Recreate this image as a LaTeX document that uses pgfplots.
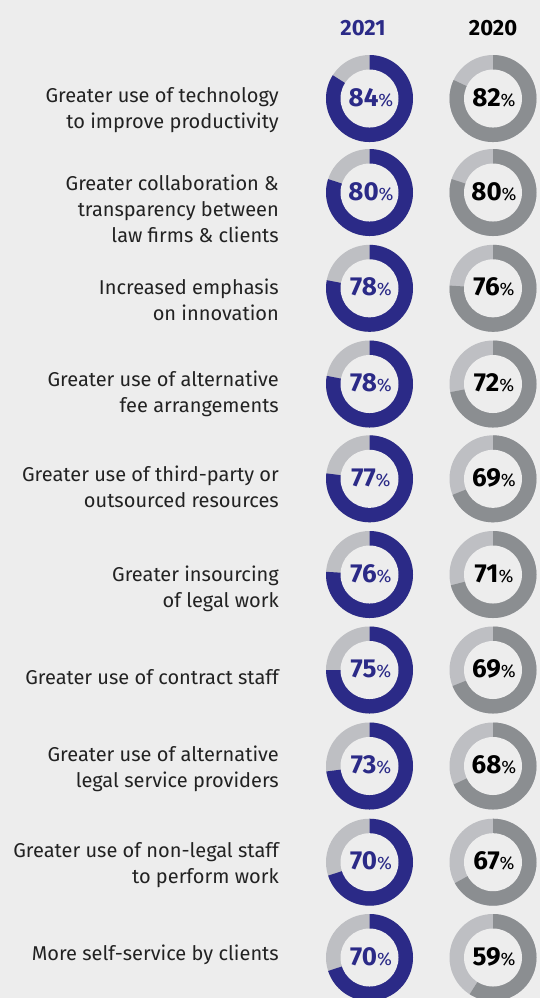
\documentclass[border=0pt]{standalone}
\usepackage{fontspec}
\setmainfont{Fira Sans}
\usepackage{pgfplots}
\pgfplotsset{compat=1.18}
\usepackage{pgfplotstable}

\definecolor{bg}{HTML}{EDEDED}
\definecolor{navy}{HTML}{2B2A87}
\definecolor{ringlight}{HTML}{BEBFC3}
\definecolor{ringdark}{HTML}{8B8E91}
\definecolor{labeltext}{HTML}{222222}

% row centre (px from top), share 2021, share 2020
\pgfplotstableread{
y     v21 v20
98.5  84  82
192.5 80  80
288.3 78  76
384.0 78  72
478.8 77  69
574.5 76  71
670.0 75  69
766.0 73  68
862.2 70  67
957.5 70  59
}\donuts

% donut drawn at each point, share taken from \pct
\newcommand\drawdonut[1]{%
  \pgfmathsetmacro\donutend{90-3.6*\pct}%
  \pgfsetfillcolor{ringlight}%
  \pgfpathcircle{\pgfpointorigin}{43.5bp}\pgfusepath{fill}%
  \pgfsetfillcolor{#1}%
  \pgfpathmoveto{\pgfpointorigin}%
  \pgfpathlineto{\pgfpoint{0bp}{43.5bp}}%
  \pgfpatharc{90}{\donutend}{43.5bp}%
  \pgfpathclose\pgfusepath{fill}%
  \pgfsetfillcolor{bg}%
  \pgfpathcircle{\pgfpointorigin}{29bp}\pgfusepath{fill}%
}
\pgfdeclareplotmark{donutA}{\drawdonut{navy}}
\pgfdeclareplotmark{donutB}{\drawdonut{ringdark}}

\newcommand\lbl{\fontsize{20bp}{26bp}\selectfont}
\newcommand\pctnum{\fontsize{26bp}{26bp}\selectfont\bfseries}
\newcommand\pctsign{\fontsize{18bp}{18bp}\selectfont\mdseries}

\begin{document}
\begin{tikzpicture}
\fill[bg] (0,0) rectangle (540bp,998bp);
\begin{axis}[
    name=ax,
    at={(0,0)}, anchor=south west,
    scale only axis,
    width=540bp, height=998bp,
    xmin=0, xmax=540, ymin=0, ymax=998,
    y dir=reverse,
    hide axis,
    clip marker paths=true,
]
% donuts
\addplot[scatter, only marks, mark=donutA,
    visualization depends on={\thisrow{v21}\as\pct},
    scatter/@pre marker code/.code={\scope},
    scatter/@post marker code/.code={\endscope}]
    table[x expr=369.5, y=y] {\donuts};
\addplot[scatter, only marks, mark=donutB,
    visualization depends on={\thisrow{v20}\as\pct},
    scatter/@pre marker code/.code={\scope},
    scatter/@post marker code/.code={\endscope}]
    table[x expr=493, y=y] {\donuts};
% value labels
\addplot[draw=none, mark=none, point meta=explicit symbolic,
    nodes near coords={{\pctnum\pgfplotspointmeta}{\pctsign\%}},
    every node near coord/.append style={anchor=base, yshift=-7.5bp,
        xshift=1.5bp, inner sep=0pt, text=navy}]
    table[x expr=369.5, y=y, meta=v21] {\donuts};
\addplot[draw=none, mark=none, point meta=explicit symbolic,
    nodes near coords={{\pctnum\pgfplotspointmeta}{\pctsign\%}},
    every node near coord/.append style={anchor=base, yshift=-7.5bp,
        xshift=1bp, inner sep=0pt, text=black}]
    table[x expr=493, y=y, meta=v20] {\donuts};

% column titles
\node[anchor=base, inner sep=0pt, text=navy, font=\fontsize{22bp}{22bp}\selectfont\bfseries]
    at (axis cs:363,35) {2021};
\node[anchor=base, inner sep=0pt, text=black, font=\fontsize{22bp}{22bp}\selectfont\bfseries]
    at (axis cs:493,35) {2020};

% row labels
\begin{scope}[every node/.style={anchor=base east, inner sep=0pt, text=labeltext, font=\lbl}]
\node at (axis cs:279,102) {Greater use of technology};
\node at (axis cs:279,128) {to improve productivity};
\node at (axis cs:279,190) {Greater collaboration \&};
\node at (axis cs:279,216) {transparency between};
\node at (axis cs:279,242) {law firms \& clients};
\node at (axis cs:279,294) {Increased emphasis};
\node at (axis cs:279,320) {on innovation};
\node at (axis cs:279,386) {Greater use of alternative};
\node at (axis cs:279,412) {fee arrangements};
\node at (axis cs:279,481) {Greater use of third-party or};
\node at (axis cs:279,507) {outsourced resources};
\node at (axis cs:279,581) {Greater insourcing};
\node at (axis cs:279,607) {of legal work};
\node at (axis cs:279,684) {Greater use of contract staff};
\node at (axis cs:279,761) {Greater use of alternative};
\node at (axis cs:279,787) {legal service providers};
\node at (axis cs:279,857) {Greater use of non-legal staff};
\node at (axis cs:279,883) {to perform work};
\node at (axis cs:279,960) {More self-service by clients};
\end{scope}
\end{axis}
\pgfresetboundingbox
\path[use as bounding box] (0,0) rectangle (540bp,998bp);
\end{tikzpicture}
\end{document}
